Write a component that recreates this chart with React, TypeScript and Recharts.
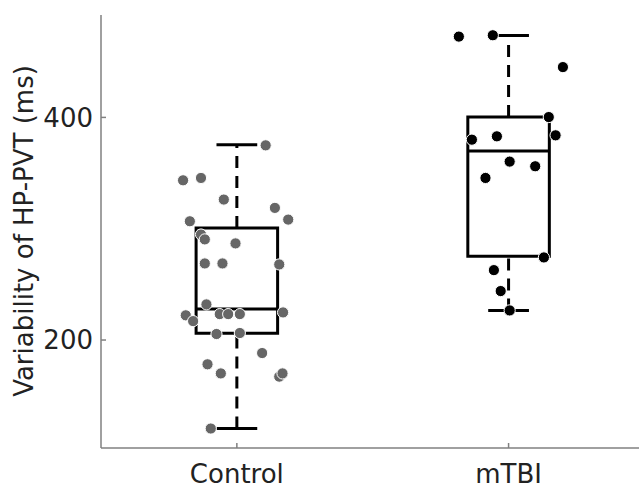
import { ComposedChart, Scatter, XAxis, YAxis, ReferenceLine, ReferenceArea, Label } from 'recharts';

const groups = ['Control', 'mTBI'];

// box statistics per group (ms)
const whiskerLow = [120.5, 226.6];
const boxQ1 = [206, 275.3];
const boxMedian = [227.8, 369.8];
const boxQ3 = [300.7, 400.3];
const whiskerHigh = [375.5, 473.5];

// individual subjects: value and horizontal jitter as seen in the figure
const controlValues = [
  374.9, 343.5, 345.6, 326.2, 318.7, 308.2, 306.7, 294.8, 290.4, 286.8,
  268.8, 268.8, 267.9, 232.0, 222.2, 217.0, 223.3, 223.3, 223.3, 224.8,
  205.4, 206.3, 188.3, 178.2, 170.0, 167.1, 170.0, 120.5,
];
const controlJitter = [
  0.106, -0.198, -0.132, -0.048, 0.14, 0.189, -0.173, -0.132, -0.118, -0.005,
  -0.118, -0.053, 0.156, -0.112, -0.188, -0.161, -0.063, -0.032, 0.011, 0.17,
  -0.075, 0.011, 0.093, -0.108, -0.059, 0.156, 0.168, -0.096,
];
const mtbiValues = [
  472.6, 473.8, 445.2, 400.3, 383.9, 380.0, 383.0, 360.3, 356.1, 345.6,
  274.2, 262.8, 244.0, 226.6,
];
const mtbiJitter = [
  -0.183, -0.058, 0.2, 0.148, 0.173, -0.135, -0.043, 0.004, 0.098, -0.085,
  0.13, -0.054, -0.029, 0.004,
];

const yTicks = [200, 400];
const BOX_HALF = 0.15;
const CAP_HALF = 0.075;
const FONT = '"DejaVu Sans", sans-serif';

const controlData = controlValues.map((v, i) => ({ x: 1 + controlJitter[i], y: v }));
const mtbiData = mtbiValues.map((v, i) => ({ x: 2 + mtbiJitter[i], y: v }));

const dot = (fill: string) => (props: any) => (
  <circle cx={props.cx} cy={props.cy} r={5.6} fill={fill} stroke="#ffffff" strokeWidth={1} />
);

const YLabel = () => (
  <text
    transform="translate(33, 231) rotate(-90)"
    textAnchor="middle"
    fontFamily={FONT}
    fontSize={26}
    fill="#222"
  >
    Variability of HP-PVT (ms)
  </text>
);

export default function App() {
  const line = { stroke: '#000', strokeWidth: 3, ifOverflow: 'visible' as const };
  return (
    <div style={{ position: 'absolute', left: 0, top: 0, background: '#fff' }}>
      <ComposedChart width={639} height={489} margin={{ top: 15, right: 0, left: 0, bottom: 0 }}>
        <XAxis
          type="number"
          dataKey="x"
          domain={[0.5, 2.48]}
          ticks={[1, 2]}
          tickFormatter={(v: number) => groups[v - 1]}
          height={41}
          allowDataOverflow
          stroke="#808080"
          strokeWidth={1.5}
          tickSize={-5}
          tickMargin={22}
          tick={{ fill: '#222', fontSize: 26, fontFamily: FONT }}
        />
        <YAxis
          type="number"
          dataKey="y"
          domain={[103, 492]}
          ticks={yTicks}
          width={101}
          allowDataOverflow
          stroke="#808080"
          strokeWidth={1.5}
          tickSize={-5}
          tickMargin={13}
          tick={{ fill: '#222', fontSize: 26, fontFamily: FONT }}
        >
          <Label content={YLabel} />
        </YAxis>
        {groups.map((g, i) => {
          const c = i + 1;
          return [
            <ReferenceArea
              key={g + 'box'}
              x1={c - BOX_HALF}
              x2={c + BOX_HALF}
              y1={boxQ1[i]}
              y2={boxQ3[i]}
              fill="none"
              fillOpacity={0}
              stroke="#000"
              strokeWidth={3}
              ifOverflow="visible"
            />,
            <ReferenceLine key={g + 'med'} segment={[{ x: c - BOX_HALF, y: boxMedian[i] }, { x: c + BOX_HALF, y: boxMedian[i] }]} {...line} />,
            <ReferenceLine key={g + 'wl'} segment={[{ x: c, y: whiskerLow[i] }, { x: c, y: boxQ1[i] }]} {...line} strokeDasharray="12 8" />,
            <ReferenceLine key={g + 'wh'} segment={[{ x: c, y: boxQ3[i] }, { x: c, y: whiskerHigh[i] }]} {...line} strokeDasharray="12 8" />,
            <ReferenceLine key={g + 'cl'} segment={[{ x: c - CAP_HALF, y: whiskerLow[i] }, { x: c + CAP_HALF, y: whiskerLow[i] }]} {...line} />,
            <ReferenceLine key={g + 'ch'} segment={[{ x: c - CAP_HALF, y: whiskerHigh[i] }, { x: c + CAP_HALF, y: whiskerHigh[i] }]} {...line} />,
          ];
        })}
        <Scatter data={controlData} shape={dot('#666666')} isAnimationActive={false} />
        <Scatter data={mtbiData} shape={dot('#000000')} isAnimationActive={false} />
      </ComposedChart>
    </div>
  );
}
